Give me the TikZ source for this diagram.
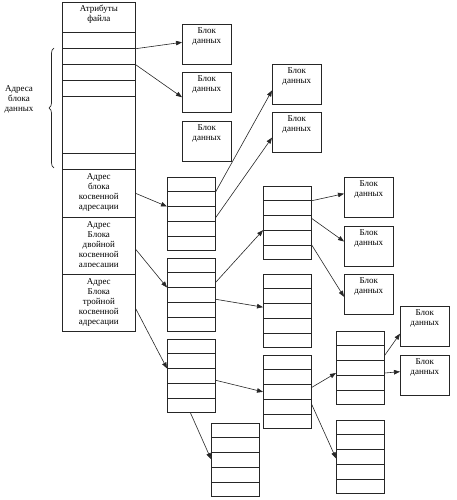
\documentclass[tikz,border=0pt]{standalone}
\usepackage{fontspec}
\setmainfont{Liberation Serif}
\usetikzlibrary{calc,positioning,arrows.meta,decorations.pathreplacing}

% block of five pointers
\newcommand{\ptrblock}[3]{%
  \node[ptr] (#1) at (#2,#3) {};
  \foreach \k in {1,...,4}
    \draw ($(#1.north west)!\k/5!(#1.south west)$) -- ($(#1.north east)!\k/5!(#1.south east)$);
}
% data block with its caption
\newcommand{\datablock}[3]{%
  \node[blk] (#1) at (#2,#3) {};
  \node[blktxt] at ([yshift=-3pt]#1.north) {Блок\\данных};
}

\begin{document}
\begin{tikzpicture}[x=1pt, y=-1pt,
    font=\fontsize{9}{10}\selectfont, line width=0.7pt, draw=black!85,
    cell/.style={draw, anchor=north west, inner sep=0pt, minimum width=73pt},
    celltxt/.style={anchor=north, align=center, inner sep=0pt},
    ptr/.style={draw, anchor=north west, inner sep=0pt, minimum width=48pt, minimum height=73pt},
    blk/.style={draw, anchor=north west, inner sep=0pt, minimum width=49pt, minimum height=40pt},
    blktxt/.style={anchor=north, align=center, inner sep=0pt},
    arr/.style={-{Triangle[length=6pt,width=4.5pt]}, line width=0.6pt}]
\useasboundingbox (0,0) rectangle (456,500);

% inode
\node[cell, minimum height=30pt] (attr) at (62,2) {};
\node[celltxt] at ([yshift=-3pt]attr.north) {Атрибуты\\файла};
\foreach \n/\y/\h in {r1/32/16, r2/48/16, r3/64/16, r4/80/16, r5/96/57, r6/153/16}
  \node[cell, minimum height=\h pt] (\n) at (62,\y) {};
\node[cell, minimum height=48pt] (sind) at (62,169) {};
\node[celltxt] at ([yshift=-4pt]sind.north) {Адрес\\блока\\косвенной\\адресации};
\node[cell, minimum height=57pt] (dind) at (62,217) {};
\begin{scope}
  \clip (dind.north west) rectangle ([yshift=8.5pt]dind.south east);
  \node[celltxt] at ([yshift=-4pt]dind.north) {Адрес\\Блока\\двойной\\косвенной\\адресации};
\end{scope}
\node[cell, minimum height=57pt] (tind) at (62,274) {};
\node[celltxt] at ([yshift=-4pt]tind.north) {Адрес\\Блока\\тройной\\косвенной\\адресации};

\draw[decorate, decoration={brace, amplitude=5pt}] (54,168) -- (54,48);
\node[align=center, inner sep=0pt] (lbl) at (19,99) {Адреса\\блока\\данных};

% data blocks
\datablock{d1}{182}{24}
\datablock{d2}{182}{72}
\datablock{d3}{182}{121}
\datablock{e1}{272}{64}
\datablock{e2}{272}{112}
\datablock{f1}{344}{177}
\datablock{f2}{344}{226}
\datablock{f3}{344}{274}
\datablock{g1}{400}{306}
\datablock{g2}{400}{355}

% pointer blocks
\ptrblock{p1}{167}{177}
\ptrblock{p2}{167}{258}
\ptrblock{p3}{263}{186}
\ptrblock{p4}{263}{274}
\ptrblock{p5}{167}{339}
\ptrblock{p6}{211}{423}
\ptrblock{p7}{263}{355}
\ptrblock{p8}{336}{331}
\ptrblock{p9}{336}{420}

% direct
\draw[arr] (r1.south east) -- ($(d1.north west)!0.45!(d1.south west)$);
\draw[arr] (r2.south east) -- ($(d2.north west)!0.62!(d2.south west)$);
% single
\draw[arr] (sind.east) -- ($(p1.north west)!0.4!(p1.south west)$);
\draw[arr] ($(p1.north east)!0.2!(p1.south east)$) -- ($(e1.north west)!0.65!(e1.south west)$);
\draw[arr] ($(p1.north east)!0.55!(p1.south east)$) -- ($(e2.north west)!0.63!(e2.south west)$);
% double
\draw[arr] ($(dind.north east)!0.56!(dind.south east)$) -- ($(p2.north west)!0.4!(p2.south west)$);
\draw[arr] ($(p2.north east)!0.33!(p2.south east)$) -- ($(p3.north west)!0.6!(p3.south west)$);
\draw[arr] ($(p2.north east)!0.56!(p2.south east)$) -- ($(p4.north west)!0.45!(p4.south west)$);
\draw[arr] ($(p3.north east)!0.2!(p3.south east)$) -- ($(f1.north west)!0.41!(f1.south west)$);
\draw[arr] ($(p3.north east)!0.44!(p3.south east)$) -- ($(f2.north west)!0.38!(f2.south west)$);
\draw[arr] ($(p3.north east)!0.8!(p3.south east)$) -- ($(f3.north west)!0.56!(f3.south west)$);
% triple
\draw[arr] ($(tind.north east)!0.6!(tind.south east)$) -- ($(p5.north west)!0.4!(p5.south west)$);
\draw[arr] ($(p5.north east)!0.56!(p5.south east)$) -- ($(p7.north west)!0.5!(p7.south west)$);
\draw[arr] ($(p5.south west)!0.48!(p5.south east)$) -- ($(p6.north west)!0.49!(p6.south west)$);
\draw[arr] ($(p7.north east)!0.44!(p7.south east)$) -- ($(p8.north west)!0.57!(p8.south west)$);
\draw[arr] ($(p7.north east)!0.67!(p7.south east)$) -- ($(p9.north west)!0.52!(p9.south west)$);
\draw[arr] ($(p8.north east)!0.33!(p8.south east)$) -- ($(g1.north west)!0.68!(g1.south west)$);
\draw[arr] ($(p8.north east)!0.57!(p8.south east)$) -- ($(g2.north west)!0.41!(g2.south west)$);
\end{tikzpicture}
\end{document}
